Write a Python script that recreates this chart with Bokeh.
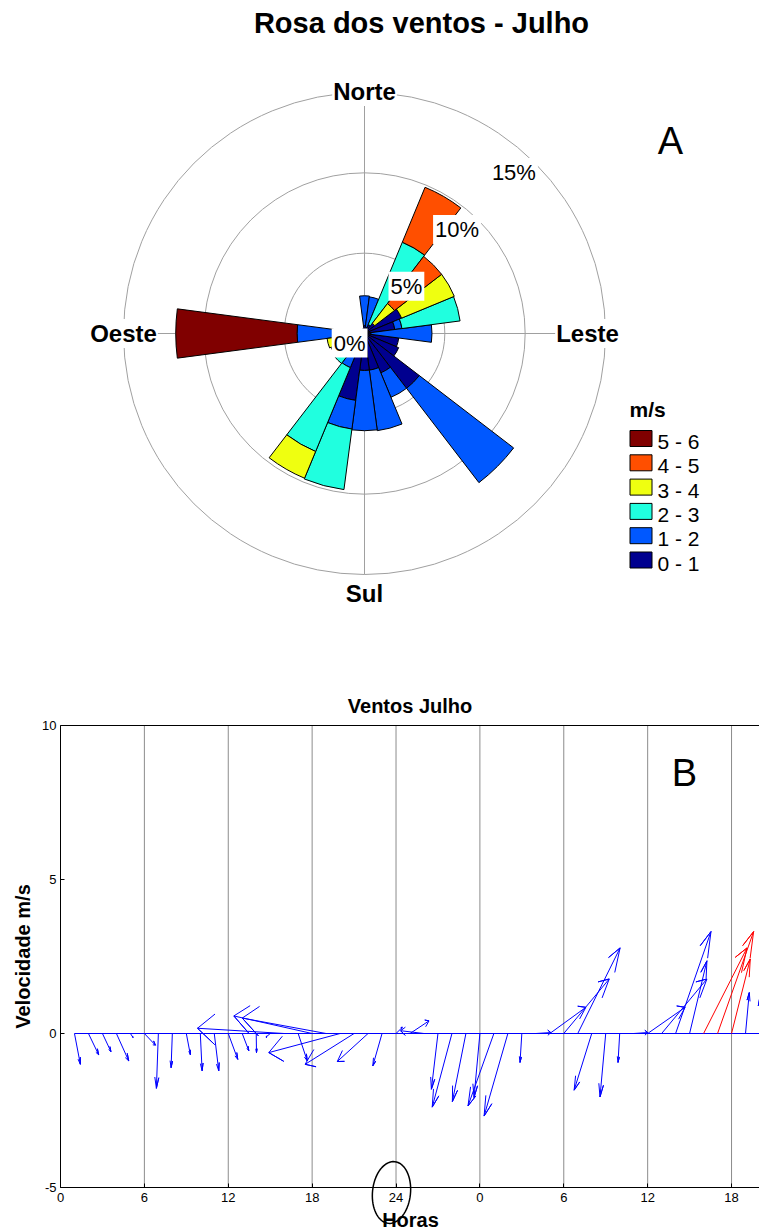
import numpy as np
from bokeh.plotting import figure
from bokeh.layouts import column
from bokeh.models import Range1d, Label, FixedTicker, PolyAnnotation
from bokeh.embed import file_html
from bokeh.resources import INLINE
from bokeh.core.properties import value

FONT = "Liberation Sans"

# ---------------- wind rose: % of hours per direction and speed class ----------------
directions = [0, 15, 30, 45, 60, 75, 90, 105, 120, 135, 150, 165,
              180, 195, 210, 225, 240, 255, 270, 285, 300, 315, 330, 345]
speed_classes = ["0 - 1", "1 - 2", "2 - 3", "3 - 4", "4 - 5", "5 - 6"]
class_colors = ["#00008F", "#0058FF", "#20FFDF", "#EFFF10", "#FF4F00", "#800000"]

freq_0_1 = [0.5, 0.4, 0.6, 0.8, 2.5, 1.9, 0.4, 2.15, 2.3, 4.3, 2.65, 2.3,
            2.3, 4.2, 0.6, 0.4, 0.4, 0.4, 0.4, 0.3, 0.3, 0.3, 0.3, 0.3]
freq_1_2 = [1.85, 1.9, 0.0, 0.0, 0.0, 0.45, 3.8, 0.0, 0.0, 7.4, 1.65, 3.8,
            3.75, 1.8, 1.7, 0.6, 0.6, 0.6, 3.8, 0.0, 0.0, 0.0, 0.0, 0.0]
freq_2_3 = [0.0, 0.0, 5.55, 0.0, 0.0, 3.65, 0.0, 0.0, 0.0, 0.0, 0.0, 0.0,
            0.0, 3.8, 5.65, 1.35, 1.25, 0.8, 0.0, 0.0, 0.0, 0.0, 0.0, 0.0]
freq_3_4 = [0.0, 0.0, 0.0, 1.55, 3.55, 0.0, 0.0, 0.0, 0.0, 0.0, 0.0, 0.0,
            0.0, 0.0, 1.8, 0.0, 0.0, 0.55, 0.0, 0.0, 0.0, 0.0, 0.0, 0.0]
freq_4_5 = [0.0, 0.0, 3.7, 3.7, 0.0, 0.0, 0.0, 0.0, 0.0, 0.0, 0.0, 0.0,
            0.0, 0.0, 0.0, 0.0, 0.0, 0.0, 0.0, 0.0, 0.0, 0.0, 0.0, 0.0]
freq_5_6 = [0.0, 0.0, 0.0, 0.0, 0.0, 0.0, 0.0, 0.0, 0.0, 0.0, 0.0, 0.0,
            0.0, 0.0, 0.0, 0.0, 0.0, 0.0, 7.55, 0.0, 0.0, 0.0, 0.0, 0.0]

ring_levels = [5, 10, 15]
ring_labels = ["5%", "10%", "15%"]
centre_label = "0%"
sector_width = 15.0

# ---------------- hourly wind vectors (u east, v north, m/s) ----------------
hours = list(range(1, 51))
u_comp = [0.42, 0.73, 0.61, 0.88, 0.19, 0.79, -0.14, -0.09, 0.29, 0.13,
          0.32, 0.68, 0.47, 0.02, -0.30, -6.20, 0.65, -5.60, -6.00, -5.10,
          -3.50, -2.20, -0.66, 0.45, 1.36, -1.67, -0.47, -1.41, -0.97, -0.42,
          -1.85, -1.70, -0.13, 1.07, 2.58, 3.25, 3.03, -1.26, -0.41, -0.12,
          1.00, 2.68, 3.24, 2.53, 1.24, 3.11, 2.58, 1.34, 0.27, 0.00]
v_comp = [-1.00, -0.69, -0.59, -0.89, -0.13, -0.38, -1.78, -1.11, -0.69, -1.21,
          -1.21, -0.84, -0.56, -0.62, -0.12, 0.17, -0.89, 0.57, 0.50, -0.62,
          -1.00, -0.91, -1.05, 0.20, 0.41, 0.09, -1.81, -2.39, -2.21, -2.08,
          -2.35, -2.68, -0.94, 0.03, 0.85, 1.77, 2.78, -1.84, -2.06, -0.94,
          0.03, 0.85, 1.77, 3.31, 2.36, 2.78, 3.31, 2.42, 1.33, 1.12]
arrow_colors = ["blue"] * 45 + ["red"] * 3 + ["blue"] * 2
hour_ticks = [0, 6, 12, 18, 24, 30, 36, 42, 48]
hour_tick_labels = ["0", "6", "12", "18", "24", "0", "6", "12", "18"]
hour_span = (0, 50)
speed_ticks = [-5, 0, 5, 10]
speed_tick_labels = ["-5", "0", "5", "10"]

# ================= wind rose =================
W = 759
H_ROSE = 660
CX, CY = 364, 333          # pixel position of the rose centre
PX = 241.0 / 15.0          # pixels per percent


def to_rose(px, py):
    return (px - CX) / PX, (CY - py) / PX


rose = figure(width=W, height=H_ROSE, output_backend="svg", toolbar_location=None,
              x_range=Range1d(-CX / PX, (W - CX) / PX),
              y_range=Range1d(-(H_ROSE - CY) / PX, CY / PX),
              x_axis_type=None, y_axis_type=None, min_border=0)
rose.outline_line_color = None
rose.background_fill_color = "white"
rose.border_fill_color = "white"

rmax = ring_levels[-1]
rose.circle(x=[0] * len(ring_levels), y=[0] * len(ring_levels), radius=ring_levels,
            fill_color=None, line_color="#A0A0A0", line_width=1)
rose.segment(x0=[-rmax, 0], y0=[0, -rmax], x1=[rmax, 0], y1=[0, rmax],
             line_color="#A0A0A0", line_width=1)

bins = np.array([freq_0_1, freq_1_2, freq_2_3, freq_3_4, freq_4_5, freq_5_6])
cum = np.cumsum(bins, axis=0)
dirs = np.array(directions, dtype=float)
start = np.radians(90.0 - dirs - sector_width / 2)
end = np.radians(90.0 - dirs + sector_width / 2)
for i, color in enumerate(class_colors):
    mask = bins[i] > 0
    rose.annular_wedge(x=0, y=0,
                       inner_radius=(cum[i] - bins[i])[mask], outer_radius=cum[i][mask],
                       start_angle=start[mask], end_angle=end[mask],
                       fill_color=color, line_color="black", line_width=1)

# percentage labels on the rings, along the north-east diagonal
diag = np.cos(np.radians(45))
for lvl, txt in zip([0] + ring_levels, [centre_label] + ring_labels):
    rose.add_layout(Label(x=lvl * diag, y=lvl * diag, text=txt, x_offset=3, y_offset=5,
                          text_align="right", text_baseline="top",
                          text_font=FONT, text_font_size="22px", text_color="black",
                          background_fill_color="white", padding=2))

# cardinal points
for name, (x, y), xo, yo, base in [("Norte", (0, rmax), 0, 1, "middle"),
                                   ("Sul", (0, -rmax), 0, -4, "top"),
                                   ("Oeste", (-rmax, 0), 0, 0, "middle"),
                                   ("Leste", (rmax, 0), -18, 0, "middle")]:
    rose.add_layout(Label(x=x, y=y, text=name, x_offset=xo, y_offset=yo,
                          text_align="center", text_baseline=base, text_color="black",
                          text_font=FONT, text_font_size="24px", text_font_style="bold",
                          background_fill_color="white", padding=1))

tx, ty = to_rose(421, 22)
rose.add_layout(Label(x=tx, y=ty, text="Rosa dos ventos - Julho", text_align="center",
                      text_baseline="middle", text_font=FONT, text_font_size="29px",
                      text_font_style="bold", text_color="black"))
ax, ay = to_rose(670, 140)
rose.add_layout(Label(x=ax, y=ay, text="A", text_align="center", text_baseline="middle",
                      text_font=FONT, text_font_size="38px", text_color="black"))

# speed-class key
key_x, _ = to_rose(640.5, 0)
key_text_x, _ = to_rose(657, 0)
row_py = [559.5 - 24.3 * i for i in range(len(speed_classes))]
row_y = [(CY - py) / PX for py in row_py]
rose.rect(x=[key_x] * len(row_y), y=row_y, width=22 / PX, height=16 / PX,
          fill_color=class_colors, line_color="black", line_width=1)
rose.text(x=[key_text_x] * len(row_y), y=[yy - 3 / PX for yy in row_y], text=speed_classes,
          text_font=value(FONT), text_font_size="21px", text_align="left",
          text_baseline="middle", text_color="black")
mx, my = to_rose(629, 409)
rose.text(x=[mx], y=[my], text=["m/s"], text_font=value(FONT), text_font_size="21px",
          text_font_style="bold", text_align="left", text_baseline="middle",
          text_color="black")

# ================= hourly feather plot =================
# The whole panel is one plotting frame; the axes are pinned at x = 0 and y = -5
# so that the tick labels and the ring below them stay inside the frame.
H_FEATHER = 570
LEFT = 60                  # pixel column of hour 0
TOP = 65                   # pixel row of the 10 m/s line
PXH = (W - LEFT) / float(hour_span[1] - hour_span[0])   # pixels per hour
PY = 30.8                  # pixels per m/s
lo, hi = speed_ticks[0], speed_ticks[-1]
y_top = hi + TOP / PY
y_bottom = y_top - H_FEATHER / PY

feather = figure(width=W, height=H_FEATHER, output_backend="svg", toolbar_location=None,
                 x_range=Range1d(hour_span[0] - LEFT / PXH, hour_span[1]),
                 y_range=Range1d(y_bottom, y_top), min_border=0)
feather.outline_line_color = None
feather.background_fill_color = "white"
feather.border_fill_color = "white"
feather.xgrid.grid_line_color = None
feather.ygrid.grid_line_color = None

feather.xaxis.fixed_location = lo
feather.xaxis.bounds = hour_span
feather.yaxis.fixed_location = hour_span[0]
feather.yaxis.bounds = (lo, hi)
feather.xaxis.ticker = FixedTicker(ticks=hour_ticks)
feather.xaxis.major_label_overrides = dict(zip(hour_ticks, hour_tick_labels))
feather.yaxis.ticker = FixedTicker(ticks=speed_ticks)
feather.yaxis.major_label_overrides = dict(zip(speed_ticks, speed_tick_labels))
for axis in feather.axis:
    axis.major_tick_in = 4
    axis.major_tick_out = 0
    axis.minor_tick_line_color = None
    axis.axis_line_color = "black"
    axis.major_tick_line_color = "black"
    axis.major_label_text_font = FONT
    axis.major_label_text_font_size = "13px"
    axis.major_label_text_color = "black"
feather.xaxis.major_label_standoff = 5
feather.yaxis.major_label_standoff = 4


def to_feather(px, py):
    return hour_span[0] + (px - LEFT) / PXH, y_top - py / PY


# axis titles and panel title
for txt, (px, py), ang, size in [("Ventos Julho", (409.5, 45), 0.0, "20px"),
                                 ("Horas", (410, 559), 0.0, "20px"),
                                 ("Velocidade m/s", (22.5, 296), np.pi / 2, "20px")]:
    lx, ly = to_feather(px, py)
    feather.add_layout(Label(x=lx, y=ly, text=txt, angle=ang, text_align="center",
                             text_baseline="middle", text_font=FONT, text_font_size=size,
                             text_font_style="bold", text_color="black"))

# vertical grid lines every 6 h between the axis limits, and the top border
grid_x = hour_ticks[1:]
feather.segment(x0=grid_x, y0=[lo] * len(grid_x), x1=grid_x, y1=[hi] * len(grid_x),
                line_color="#8C8C8C", line_width=1)
feather.segment(x0=[hour_span[0]], y0=[hi], x1=[hour_span[1]], y1=[hi],
                line_color="black", line_width=1)

# baseline through the arrow origins
feather.line(x=[hours[0], hours[-1]], y=[0, 0], line_color="blue", line_width=1)

# arrows: base -> tip -> head -> tip -> head (head at 0.8 of length, +-0.08 across)
h = np.array(hours, dtype=float)
u = np.array(u_comp)
v = np.array(v_comp)
xs, ys = [], []
for k, uk, vk in zip(h, u, v):
    tipx, tipy = k + uk, vk
    h1x, h1y = k + 0.8 * uk - 0.08 * vk, 0.8 * vk + 0.08 * uk
    h2x, h2y = k + 0.8 * uk + 0.08 * vk, 0.8 * vk - 0.08 * uk
    xs.append([k, tipx, h1x, tipx, h2x])
    ys.append([0.0, tipy, h1y, tipy, h2y])
feather.multi_line(xs=xs, ys=ys, line_color=arrow_colors, line_width=1)

# panel letter
bx, by = to_feather(684, 112)
feather.add_layout(Label(x=bx, y=by, text="B", text_align="center", text_baseline="middle",
                         text_font=FONT, text_font_size="38px", text_color="black"))

# ring around the day boundary tick label
t = np.linspace(0, 2 * np.pi, 73)
ex0, ey0 = to_feather(391, 532)
ea, eb, tilt = 19.0, 31.0, np.radians(-6)
off_x = ea * np.cos(t) * np.cos(tilt) - eb * np.sin(t) * np.sin(tilt)
off_y = ea * np.cos(t) * np.sin(tilt) + eb * np.sin(t) * np.cos(tilt)
feather.add_layout(PolyAnnotation(xs=list(ex0 + off_x / PXH), ys=list(ey0 + off_y / PY),
                                  fill_alpha=0, line_color="black", line_alpha=1.0,
                                  line_width=1.5))

layout = column(rose, feather)
open("out.html", "w").write(file_html(layout, INLINE))
